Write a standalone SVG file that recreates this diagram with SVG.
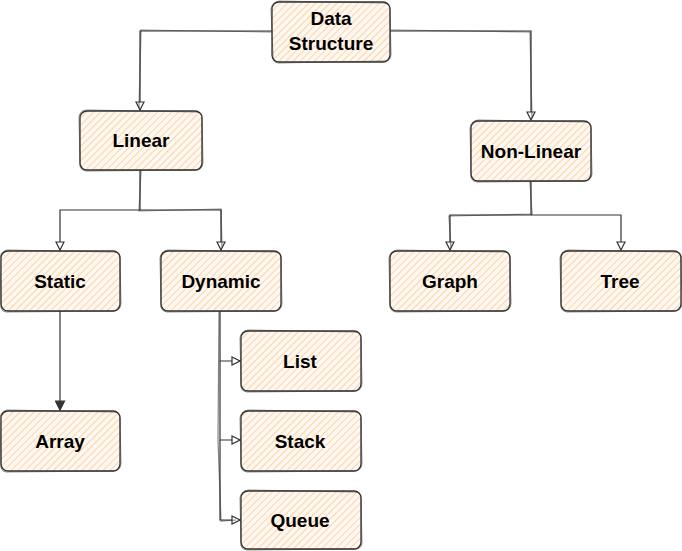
<svg xmlns="http://www.w3.org/2000/svg" width="682" height="551" viewBox="0 0 682 551">
<defs>
  <pattern id="hatch" patternUnits="userSpaceOnUse" width="5" height="5" patternTransform="rotate(45)">
    <rect width="5" height="5" fill="#fff8f0"/>
    <line x1="0" y1="0" x2="0" y2="5" stroke="#fbcd9c" stroke-width="1.7"/>
  </pattern>
  <marker id="arr" viewBox="0 0 10 10" refX="9" refY="5" markerWidth="10" markerHeight="10" markerUnits="userSpaceOnUse" orient="auto">
    <path d="M1,1 L9,5 L1,9 Z" fill="#ffffff" stroke="#333" stroke-width="1.2"/>
  </marker>
  <marker id="arrb" viewBox="0 0 10 10" refX="9" refY="5" markerWidth="11" markerHeight="11" markerUnits="userSpaceOnUse" orient="auto">
    <path d="M1,1 L9,5 L1,9 Z" fill="#333" stroke="#333" stroke-width="1.2"/>
  </marker>
</defs>
<style>
  .box { fill: url(#hatch); stroke: #333; stroke-width: 1.3; }
  .box2 { fill: none; stroke: #333; stroke-width: 0.8; opacity: 0.7; }
  .lbl { font-family: "Liberation Sans", Arial, sans-serif; font-weight: bold; font-size: 19px; fill: #000; text-anchor: middle; }
  .edge { fill: none; stroke: #333; stroke-width: 1.2; }
</style>

<g id="connectors">
  <path class="edge" d="M272,31 L140,31 L140,110" marker-end="url(#arr)"/>
  <path class="edge" d="M271,32 L141,30 L139,108" opacity="0.6"/>
  <path class="edge" d="M390,31 L531,31 L531,120" marker-end="url(#arr)"/>
  <path class="edge" d="M391,30 L530,32 L532,118" opacity="0.6"/>
  <path class="edge" d="M140,170 L140,210 L60,210 L60,250" marker-end="url(#arr)"/>
  <path class="edge" d="M140,210 L221,210 L221,250" marker-end="url(#arr)"/>
  <path class="edge" d="M141,171 L139,211 L221,209 L222,248" opacity="0.6"/>
  <path class="edge" d="M531,181 L531,215 L450,215 L450,250" marker-end="url(#arr)"/>
  <path class="edge" d="M531,215 L621,215 L621,250" marker-end="url(#arr)"/>
  <path class="edge" d="M530,182 L532,214 L449,216 L451,248" opacity="0.6"/>
  <path class="edge" d="M60,311 L60,410" marker-end="url(#arrb)" stroke-width="2"/>
  <path class="edge" d="M220,311 L220,361 L240,361" marker-end="url(#arr)"/>
  <path class="edge" d="M220,361 L220,440 L240,440" marker-end="url(#arr)"/>
  <path class="edge" d="M220,440 L220,520 L240,520" marker-end="url(#arr)"/>
  <path class="edge" d="M219,312 L218,440 L221,521 L236,520" opacity="0.6"/>
</g>

<g id="node-data-structure">
  <rect class="box" x="272" y="2" width="118" height="60" rx="7"/>
  <path class="box2" d="M279,1 L384,3 Q391,4 390,11 L391,55 Q390,62 383,61 L278,63 Q272,62 273,56 L271,9 Q272,2 279,1 Z"/>
  <text class="lbl" x="331" y="25">Data</text>
  <text class="lbl" x="331" y="50">Structure</text>
</g>

<g id="node-linear">
  <rect class="box" x="80" y="111" width="122" height="59" rx="7"/>
  <path class="box2" d="M87,110 L196,112 Q203,112 202,119 L203,163 Q202,171 195,170 L86,171 Q79,170 80,163 L79,117 Q80,110 87,110 Z"/>
  <text class="lbl" x="141" y="147">Linear</text>
</g>

<g id="node-non-linear">
  <rect class="box" x="471" y="121" width="120" height="60" rx="7"/>
  <path class="box2" d="M478,120 L585,122 Q592,122 591,129 L592,174 Q591,181 584,181 L477,182 Q470,181 471,174 L470,128 Q471,121 478,120 Z"/>
  <text class="lbl" x="531" y="158">Non-Linear</text>
</g>

<g id="node-static">
  <rect class="box" x="1" y="251" width="119" height="60" rx="7"/>
  <path class="box2" d="M7,250 L114,252 Q121,252 120,259 L121,304 Q120,311 113,311 L6,312 Q0,311 1,304 L0,258 Q1,251 7,250 Z"/>
  <text class="lbl" x="60" y="288">Static</text>
</g>

<g id="node-dynamic">
  <rect class="box" x="161" y="251" width="120" height="60" rx="7"/>
  <path class="box2" d="M168,250 L275,252 Q282,252 281,259 L282,304 Q281,311 274,311 L167,312 Q160,311 161,304 L160,258 Q161,251 168,250 Z"/>
  <text class="lbl" x="221" y="288">Dynamic</text>
</g>

<g id="node-graph">
  <rect class="box" x="390" y="251" width="120" height="60" rx="7"/>
  <path class="box2" d="M397,250 L504,252 Q511,252 510,259 L511,304 Q510,311 503,311 L396,312 Q389,311 390,304 L389,258 Q390,251 397,250 Z"/>
  <text class="lbl" x="450" y="288">Graph</text>
</g>

<g id="node-tree">
  <rect class="box" x="561" y="251" width="120" height="60" rx="7"/>
  <path class="box2" d="M568,250 L675,252 Q682,252 681,259 L682,304 Q681,311 674,311 L567,312 Q560,311 561,304 L560,258 Q561,251 568,250 Z"/>
  <text class="lbl" x="620" y="288">Tree</text>
</g>

<g id="node-list">
  <rect class="box" x="241" y="331" width="120" height="60" rx="7"/>
  <path class="box2" d="M248,330 L355,332 Q362,332 361,339 L362,384 Q361,391 354,391 L247,392 Q240,391 241,384 L240,338 Q241,331 248,330 Z"/>
  <text class="lbl" x="300" y="368">List</text>
</g>

<g id="node-array">
  <rect class="box" x="1" y="411" width="119" height="60" rx="7"/>
  <path class="box2" d="M7,410 L114,412 Q121,412 120,419 L121,464 Q120,471 113,471 L6,472 Q0,471 1,464 L0,418 Q1,411 7,410 Z"/>
  <text class="lbl" x="60" y="448">Array</text>
</g>

<g id="node-stack">
  <rect class="box" x="241" y="411" width="120" height="60" rx="7"/>
  <path class="box2" d="M248,410 L355,412 Q362,412 361,419 L362,464 Q361,471 354,471 L247,472 Q240,471 241,464 L240,418 Q241,411 248,410 Z"/>
  <text class="lbl" x="300" y="448">Stack</text>
</g>

<g id="node-queue">
  <rect class="box" x="241" y="491" width="120" height="58" rx="7"/>
  <path class="box2" d="M248,490 L355,492 Q362,492 361,499 L362,543 Q361,550 354,549 L247,550 Q240,549 241,543 L240,498 Q241,491 248,490 Z"/>
  <text class="lbl" x="300" y="527">Queue</text>
</g>
</svg>
